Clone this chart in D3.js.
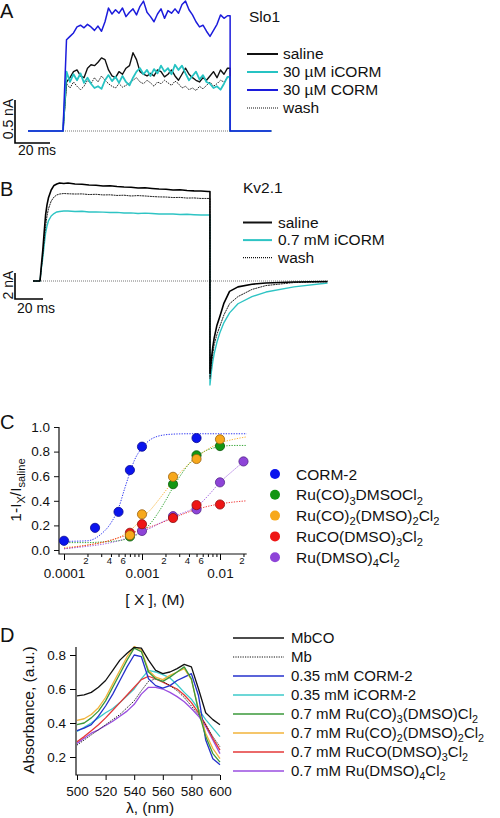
<!DOCTYPE html>
<html><head><meta charset="utf-8">
<script src="https://cdn.jsdelivr.net/npm/d3@7"></script>
<style>
body{margin:0;background:#fff}
text{font-family:"Liberation Sans",Arial,sans-serif;fill:#111}
</style>
</head><body>
<svg id="fig" width="500" height="818"></svg>
<script>
// ---------------- DATA ----------------
// Panel A (Slo1): current (nA) sampled every 2 ms from 2 to 94 ms after step onset
const aTimes = d3.range(2, 96, 2);
const aStepOff = 95.5, aStart = -20, aEnd = 119;
const aCORM = [1.06,1.10,1.14,1.21,1.23,1.20,1.24,1.21,1.17,1.22,1.16,1.27,1.43,1.36,1.41,1.37,1.43,1.33,1.38,1.42,1.35,1.45,1.51,1.38,1.33,1.27,1.36,1.42,1.31,1.40,1.37,1.42,1.37,1.47,1.51,1.41,1.35,1.27,1.21,1.23,1.16,1.10,1.17,1.24,1.35,1.31,1.34];
const aSaline = [0.57,0.62,0.69,0.71,0.64,0.62,0.73,0.77,0.76,0.80,0.85,0.83,0.71,0.64,0.62,0.69,0.66,0.73,0.76,0.91,0.83,0.69,0.66,0.64,0.67,0.64,0.71,0.69,0.63,0.66,0.71,0.64,0.59,0.66,0.73,0.66,0.62,0.59,0.57,0.62,0.59,0.64,0.69,0.62,0.71,0.66,0.73];
const aICORM = [0.69,0.57,0.66,0.59,0.67,0.56,0.62,0.55,0.50,0.52,0.49,0.59,0.65,0.58,0.63,0.56,0.64,0.57,0.53,0.62,0.69,0.73,0.66,0.71,0.64,0.72,0.67,0.76,0.69,0.73,0.66,0.77,0.71,0.76,0.67,0.59,0.64,0.69,0.60,0.65,0.57,0.55,0.50,0.52,0.48,0.55,0.63];
const aWash = [0.55,0.50,0.57,0.52,0.48,0.52,0.59,0.55,0.62,0.57,0.64,0.59,0.55,0.52,0.50,0.55,0.51,0.53,0.56,0.59,0.62,0.57,0.55,0.59,0.56,0.52,0.57,0.55,0.59,0.56,0.53,0.58,0.55,0.50,0.52,0.48,0.50,0.47,0.52,0.49,0.53,0.57,0.52,0.55,0.59,0.57,0.62];
const aLegend = ["saline","30 µM iCORM","30 µM CORM","wash"];

// Panel B (Kv2.1): current (nA)
const bTimes = [1,2,3,4,5,6,8,10,12,14,17,20,25,30,35,40,45,50,55,60,65,70,75,80,85,90,95,100,105,110,115,120];
const bStepOff = 121.4, bStart = -5;
const bSaline = [1.23,2.38,3.77,5.08,5.85,6.38,7.00,7.35,7.46,7.54,7.50,7.54,7.46,7.44,7.38,7.36,7.31,7.33,7.27,7.23,7.21,7.15,7.17,7.12,7.08,7.06,7.00,7.02,6.96,6.93,6.92,6.88];
const bWash   = [1.00,2.00,3.15,4.23,5.00,5.54,6.15,6.46,6.62,6.69,6.73,6.71,6.69,6.70,6.65,6.67,6.62,6.63,6.58,6.60,6.54,6.57,6.54,6.50,6.47,6.46,6.42,6.43,6.38,6.39,6.35,6.35];
const bICORM  = [1.00,1.77,2.77,3.69,4.23,4.62,5.00,5.19,5.31,5.35,5.38,5.38,5.35,5.36,5.31,5.32,5.30,5.27,5.28,5.23,5.24,5.19,5.22,5.19,5.15,5.16,5.15,5.12,5.13,5.10,5.08,5.08];
const bTailTimes = [0,1,2,3,5,7,10,14,20,30,40,60,84];
const bTailSaline = [-7.1,-6.0,-5.1,-4.4,-3.4,-2.75,-1.7,-0.8,-0.45,-0.25,-0.15,-0.08,-0.04];
const bTailWash   = [-7.5,-6.4,-5.6,-4.9,-4.1,-3.5,-2.6,-1.75,-1.2,-0.65,-0.35,-0.12,-0.06];
const bTailICORM  = [-8.0,-7.0,-6.2,-5.6,-4.7,-4.0,-3.2,-2.45,-1.75,-1.2,-0.85,-0.45,-0.15];
const bLegend = ["saline","0.7 mM iCORM","wash"];

// Panel C: dose-response, concentration (M) vs 1 - Ix/Isaline
const cNames = ["CORM-2","Ru(CO)_3DMSOCl_2","Ru(CO)_2(DMSO)_2Cl_2","RuCO(DMSO)_3Cl_2","Ru(DMSO)_4Cl_2"];
const cConcCORM2 = [1e-4,2.5e-4,5e-4,7e-4,1e-3,5e-3];
const cValCORM2  = [0.075,0.18,0.31,0.65,0.84,0.91];
const cConcCO3 = [7e-4,2.5e-3,5e-3,1e-2];
const cValCO3  = [0.11,0.535,0.77,0.845];
const cConcCO2 = [7e-4,1e-3,2.5e-3,5e-3,1e-2];
const cValCO2  = [0.12,0.29,0.595,0.74,0.90];
const cConcCO1 = [7e-4,1e-3,2.5e-3,5e-3,1e-2];
const cValCO1  = [0.14,0.21,0.26,0.365,0.37];
const cConcDMSO = [1e-3,2.5e-3,5e-3,1e-2,2e-2];
const cValDMSO  = [0.155,0.275,0.33,0.55,0.72];
const cFitConc = [1e-4,2e-4,3e-4,4e-4,5e-4,6e-4,7e-4,8e-4,1e-3,1.3e-3,1.6e-3,2e-3,2.5e-3,3e-3,4e-3,5e-3,7e-3,1e-2,1.5e-2,2.2e-2];
const cFitCORM2 = [0.07,0.075,0.13,0.22,0.34,0.50,0.63,0.73,0.83,0.90,0.925,0.937,0.942,0.944,0.945,0.945,0.945,0.945,0.945,0.945];
const cFitCO3   = [0.06,0.06,0.065,0.07,0.075,0.085,0.10,0.115,0.15,0.22,0.30,0.40,0.51,0.59,0.70,0.76,0.815,0.84,0.85,0.85];
const cFitCO2   = [0.02,0.04,0.06,0.08,0.10,0.13,0.16,0.19,0.26,0.33,0.40,0.48,0.56,0.62,0.70,0.75,0.82,0.87,0.90,0.92];
const cFitCO1   = [0.01,0.04,0.06,0.08,0.10,0.115,0.13,0.145,0.165,0.19,0.21,0.235,0.26,0.28,0.31,0.33,0.355,0.375,0.39,0.40];
const cFitDMSO  = [0.01,0.03,0.045,0.06,0.075,0.09,0.105,0.12,0.15,0.18,0.21,0.24,0.27,0.29,0.32,0.35,0.44,0.55,0.65,0.74];
const cYTicks = [0,0.2,0.4,0.6,0.8,1.0];
const cXMajor = [1e-4,1e-3,1e-2];
const cXMinorMult = [2,3,4,5,6,7,8,9];
const cXMinorLabels = [2,4,6];

// Panel D: absorbance spectra
const dWave = [500,505,510,515,520,525,530,535,540,545,550,555,560,565,570,575,580,585,590,595,600];
const dMbCO  = [0.56,0.565,0.58,0.61,0.65,0.71,0.77,0.81,0.845,0.84,0.77,0.71,0.69,0.70,0.72,0.745,0.73,0.60,0.46,0.42,0.39];
const dMb    = [0.27,0.30,0.33,0.36,0.39,0.42,0.45,0.49,0.53,0.59,0.645,0.66,0.645,0.62,0.59,0.55,0.50,0.45,0.39,0.32,0.26];
const dCORM2 = [0.355,0.37,0.39,0.44,0.50,0.57,0.65,0.73,0.80,0.79,0.66,0.62,0.605,0.62,0.65,0.67,0.69,0.56,0.30,0.19,0.155];
const dICORM2= [0.35,0.375,0.40,0.43,0.46,0.485,0.52,0.56,0.60,0.66,0.71,0.70,0.685,0.665,0.625,0.58,0.54,0.48,0.42,0.37,0.32];
const dCO3   = [0.39,0.40,0.43,0.47,0.53,0.61,0.69,0.77,0.84,0.82,0.70,0.66,0.645,0.67,0.70,0.73,0.66,0.47,0.32,0.22,0.17];
const dCO2   = [0.415,0.425,0.45,0.49,0.55,0.63,0.71,0.79,0.85,0.83,0.71,0.67,0.655,0.68,0.70,0.72,0.655,0.48,0.34,0.25,0.19];
const dCO1   = [0.29,0.32,0.355,0.39,0.43,0.475,0.52,0.565,0.61,0.655,0.675,0.66,0.64,0.62,0.60,0.565,0.52,0.46,0.39,0.31,0.24];
const dDMSO  = [0.28,0.31,0.34,0.36,0.385,0.41,0.44,0.47,0.51,0.57,0.61,0.61,0.60,0.58,0.555,0.525,0.485,0.44,0.38,0.30,0.22];
const dNames = ["MbCO","Mb","0.35 mM CORM-2","0.35 mM iCORM-2","0.7 mM Ru(CO)_3(DMSO)Cl_2","0.7 mM Ru(CO)_2(DMSO)_2Cl_2","0.7 mM RuCO(DMSO)_3Cl_2","0.7 mM Ru(DMSO)_4Cl_2"];
const dXTicks = [500,520,540,560,580,600];
const dYTicks = [0.2,0.4,0.6,0.8];

// ---------------- DRAWING ----------------
const svg = d3.select("#fig");
const FONT = "Liberation Sans, Arial, sans-serif";

function rich(textSel, str, fs) {
  const re = /_\{([^}]*)\}|_(.)|([^_]+)/g;
  let m, shift = 0;
  while ((m = re.exec(str))) {
    if (m[3] !== undefined) {
      textSel.append("tspan").attr("dy", -shift).text(m[3]); shift = 0;
    } else {
      const s = m[1] !== undefined ? m[1] : m[2];
      const d = fs * 0.28;
      textSel.append("tspan").attr("dy", d - shift).attr("font-size", fs * 0.72).text(s);
      shift = d;
    }
  }
}
function label(x, y, str, fs, opts = {}) {
  const t = svg.append("text").attr("x", x).attr("y", y).attr("font-size", fs)
    .attr("text-anchor", opts.anchor || "start");
  if (opts.rotate) t.attr("transform", `rotate(-90,${x},${y})`);
  rich(t, str, fs);
  return t;
}

// panel letters
label(0, 18, "A", 20); label(0, 196, "B", 20); label(0, 429, "C", 20); label(0, 642, "D", 20);

// ---------- Panel A ----------
const xA = d3.scaleLinear().domain([0, 20]).range([63, 98]);
const yA = d3.scaleLinear().domain([0, 0.5]).range([131, 88]);
const lineA = d3.line().x(d => xA(d[0])).y(d => yA(d[1]));
function traceA(vals) {
  const pts = [[aStart, 0], [0, 0]];
  aTimes.forEach((t, i) => pts.push([t, vals[i]]));
  pts.push([aStepOff, vals[vals.length - 1]], [aStepOff, 0], [aEnd, 0]);
  return pts;
}
svg.append("line").attr("x1", xA(0)).attr("x2", xA(aStepOff)).attr("y1", yA(0)).attr("y2", yA(0))
  .attr("stroke", "#777").attr("stroke-width", 1).attr("stroke-dasharray", "1,1");
const aSeries = [
  {v: aWash, c: "#222", w: 1, dash: "1.5,1"},
  {v: aSaline, c: "#111", w: 1.4},
  {v: aICORM, c: "#26c3c3", w: 1.8},
  {v: aCORM, c: "#1c1cdc", w: 1.5}
];
aSeries.forEach(s => svg.append("path").attr("d", lineA(traceA(s.v))).attr("fill", "none")
  .attr("stroke", s.c).attr("stroke-width", s.w).attr("stroke-dasharray", s.dash || null)
  .attr("stroke-linejoin", "round"));
// scale bar A
const barAh = yA(0) - yA(0.5), barAw = xA(20) - xA(0);
svg.append("path").attr("d", `M15,${143 - barAh}V143H${15 + barAw}`).attr("fill", "none").attr("stroke", "#000").attr("stroke-width", 1.6);
label(13, 119, "0.5 nA", 14, {rotate: true, anchor: "middle"});
label(18, 155, "20 ms", 14);
// legend A
label(249, 22, "Slo1", 15.5);
const aLegStyle = [{c: "#111", w: 2}, {c: "#26c3c3", w: 2}, {c: "#1c1cdc", w: 2}, {c: "#111", w: 1.2, dash: "1,1"}];
aLegend.forEach((n, i) => {
  const y = 54 + i * 18;
  svg.append("line").attr("x1", 247).attr("x2", 278).attr("y1", y).attr("y2", y)
    .attr("stroke", aLegStyle[i].c).attr("stroke-width", aLegStyle[i].w).attr("stroke-dasharray", aLegStyle[i].dash || null);
  label(283, y + 5, n, 15.5);
});

// ---------- Panel B ----------
const xB = d3.scaleLinear().domain([0, 20]).range([40, 68]);
const yB = d3.scaleLinear().domain([0, 2]).range([281, 255]);
const lineB = d3.line().x(d => xB(d[0])).y(d => yB(d[1]));
function traceB(vals, tail) {
  const pts = [[bStart, 0], [0, 0]];
  bTimes.forEach((t, i) => pts.push([t, vals[i]]));
  pts.push([bStepOff, vals[vals.length - 1]]);
  bTailTimes.forEach((t, i) => pts.push([bStepOff + t, tail[i]]));
  return pts;
}
svg.append("line").attr("x1", xB(bStart)).attr("x2", xB(206)).attr("y1", yB(0)).attr("y2", yB(0))
  .attr("stroke", "#777").attr("stroke-width", 1).attr("stroke-dasharray", "1,1");
const bSeries = [
  {v: bICORM, t: bTailICORM, c: "#2ec4c4", w: 1.4},
  {v: bWash, t: bTailWash, c: "#222", w: 1, dash: "2,0.6"},
  {v: bSaline, t: bTailSaline, c: "#000", w: 1.6}
];
bSeries.forEach(s => svg.append("path").attr("d", lineB(traceB(s.v, s.t))).attr("fill", "none")
  .attr("stroke", s.c).attr("stroke-width", s.w).attr("stroke-dasharray", s.dash || null)
  .attr("stroke-linejoin", "round"));
const barBh = yB(0) - yB(2), barBw = xB(20) - xB(0);
svg.append("path").attr("d", `M15,${299 - barBh}V299H${15 + barBw}`).attr("fill", "none").attr("stroke", "#000").attr("stroke-width", 1.6);
label(13, 285, "2 nA", 14, {rotate: true, anchor: "middle"});
label(17, 313, "20 ms", 14);
label(243, 193, "Kv2.1", 15.5);
const bLegStyle = [{c: "#111", w: 2}, {c: "#2ec4c4", w: 2}, {c: "#111", w: 1.2, dash: "1,1"}];
bLegend.forEach((n, i) => {
  const y = 222.5 + i * 17.6;
  svg.append("line").attr("x1", 243).attr("x2", 272).attr("y1", y).attr("y2", y)
    .attr("stroke", bLegStyle[i].c).attr("stroke-width", bLegStyle[i].w).attr("stroke-dasharray", bLegStyle[i].dash || null);
  label(278, y + 5, n, 15.5);
});

// ---------- Panel C ----------
const xC = d3.scaleLog().domain([1e-4, 1e-2]).range([64, 220]);
const yC = d3.scaleLinear().domain([0, 1]).range([550, 427]);
const cAxisY = 554, cAxisX = 59;
const gCy = svg.append("g").attr("transform", `translate(${cAxisX},0)`)
  .call(d3.axisLeft(yC).tickValues(cYTicks).tickFormat(d3.format(".1f")).tickSize(5).tickPadding(4).tickSizeOuter(0));
gCy.select(".domain").remove();
gCy.selectAll("text").attr("font-size", 13.5).attr("font-family", FONT).attr("fill", "#111");
gCy.selectAll("line").attr("stroke", "#111");
const cMinor = [];
cXMajor.forEach(m => cXMinorMult.forEach(k => { const v = m * k; if (v <= 2.01e-2) cMinor.push(v); }));
const gCxMaj = svg.append("g").attr("transform", `translate(0,${cAxisY})`)
  .call(d3.axisBottom(xC).tickValues(cXMajor).tickFormat(d => String(+d.toFixed(4))).tickSize(6).tickPadding(8).tickSizeOuter(0));
gCxMaj.select(".domain").remove();
gCxMaj.selectAll("text").attr("font-size", 13.5).attr("font-family", FONT).attr("fill", "#111");
const gCxMin = svg.append("g").attr("transform", `translate(0,${cAxisY})`)
  .call(d3.axisBottom(xC).tickValues(cMinor)
    .tickFormat(d => { const k = Math.round(d / Math.pow(10, Math.floor(Math.log10(d) + 1e-9))); return cXMinorLabels.includes(k) ? String(k) : ""; })
    .tickSize(3).tickPadding(0).tickSizeOuter(0));
gCxMin.select(".domain").remove();
gCxMin.selectAll("text").attr("font-size", 9.5).attr("font-family", FONT).attr("fill", "#111").attr("dx", -2);
svg.append("path").attr("d", `M${cAxisX},${yC(1)}V${cAxisY}H${xC(2.2e-2)}`).attr("fill", "none").attr("stroke", "#111").attr("stroke-width", 1.2);
svg.append("text").attr("x", 155).attr("y", 605).attr("text-anchor", "middle").attr("font-size", 15.5).text("[ X ], (M)");
label(21, 490, "1-I_X/I_{saline}", 15.5, {rotate: true, anchor: "middle"});

const cColors = ["#0a14ee", "#139613", "#f7a81b", "#ee1616", "#8e44d8"];
const cStroke = ["#0a0a90", "#0b5a0b", "#9a6210", "#8e1010", "#55288a"];
const cFits = [cFitCORM2, cFitCO3, cFitCO2, cFitCO1, cFitDMSO];
const cPts = [[cConcCORM2, cValCORM2], [cConcCO3, cValCO3], [cConcCO2, cValCO2], [cConcCO1, cValCO1], [cConcDMSO, cValDMSO]];
const lineC = d3.line().x(d => xC(d[0])).y(d => yC(d[1])).curve(d3.curveMonotoneX);
cFits.forEach((f, i) => svg.append("path").attr("d", lineC(cFitConc.map((c, j) => [c, f[j]])))
  .attr("fill", "none").attr("stroke", cColors[i]).attr("stroke-width", 1).attr("stroke-dasharray", "1.3,1.3").attr("opacity", 0.85));
[4, 3, 1, 2, 0].forEach(i => {
  const [cs, vs] = cPts[i];
  svg.append("g").selectAll("circle").data(cs.map((c, j) => [c, vs[j]])).join("circle")
    .attr("cx", d => xC(d[0])).attr("cy", d => yC(d[1])).attr("r", 4.6)
    .attr("fill", cColors[i]).attr("stroke", cStroke[i]).attr("stroke-width", 0.8);
});
cNames.forEach((n, i) => {
  const y = 474 + i * 20.8;
  svg.append("circle").attr("cx", 275).attr("cy", y).attr("r", 5).attr("fill", cColors[i]);
  label(296, y + 5.5, n, 15.5);
});

// ---------- Panel D ----------
const xD = d3.scaleLinear().domain([500, 600]).range([77, 220]);
const yD = d3.scaleLinear().domain([0.2, 0.8]).range([757, 655]);
const dAxisY = 775, dAxisX = 76;
const gDx = svg.append("g").attr("transform", `translate(0,${dAxisY})`)
  .call(d3.axisBottom(xD).tickValues(dXTicks).tickSize(5).tickPadding(6).tickSizeOuter(0));
gDx.select(".domain").remove();
gDx.selectAll("text").attr("font-size", 13.5).attr("font-family", FONT).attr("fill", "#111");
const gDy = svg.append("g").attr("transform", `translate(${dAxisX},0)`)
  .call(d3.axisLeft(yD).tickValues(dYTicks).tickFormat(d3.format(".1f")).tickSize(6).tickPadding(4).tickSizeOuter(0));
gDy.select(".domain").remove();
gDy.selectAll("text").attr("font-size", 13.5).attr("font-family", FONT).attr("fill", "#111");
svg.append("path").attr("d", `M${dAxisX},647V${dAxisY}H220`).attr("fill", "none").attr("stroke", "#111").attr("stroke-width", 1.2);
svg.append("text").attr("x", 150).attr("y", 813).attr("text-anchor", "middle").attr("font-size", 15.5).text("λ, (nm)");
label(34, 710, "Absorbance, (a.u.)", 15.5, {rotate: true, anchor: "middle"});

const dSeries = [dMbCO, dMb, dCORM2, dICORM2, dCO3, dCO2, dCO1, dDMSO];
const dColors = ["#111", "#111", "#2430cc", "#3ccaca", "#3a983a", "#f2b33a", "#e53838", "#9a4ee0"];
const dDash = [null, "1.2,1.2", null, null, null, null, null, null];
const lineD = d3.line().x(d => xD(d[0])).y(d => yD(d[1]));
[3, 7, 6, 1, 2, 5, 4, 0].forEach(i => svg.append("path").attr("d", lineD(dWave.map((w, j) => [w, dSeries[i][j]])))
  .attr("fill", "none").attr("stroke", dColors[i]).attr("stroke-width", i === 1 ? 1 : 1.3)
  .attr("stroke-dasharray", dDash[i]).attr("stroke-linejoin", "round"));
dNames.forEach((n, i) => {
  const y = 638 + i * 19;
  svg.append("line").attr("x1", 233).attr("x2", 284).attr("y1", y).attr("y2", y)
    .attr("stroke", dColors[i]).attr("stroke-width", i === 1 ? 1 : 1.5).attr("stroke-dasharray", dDash[i]);
  label(291, y + 5, n, 15);
});
</script>
</body></html>
